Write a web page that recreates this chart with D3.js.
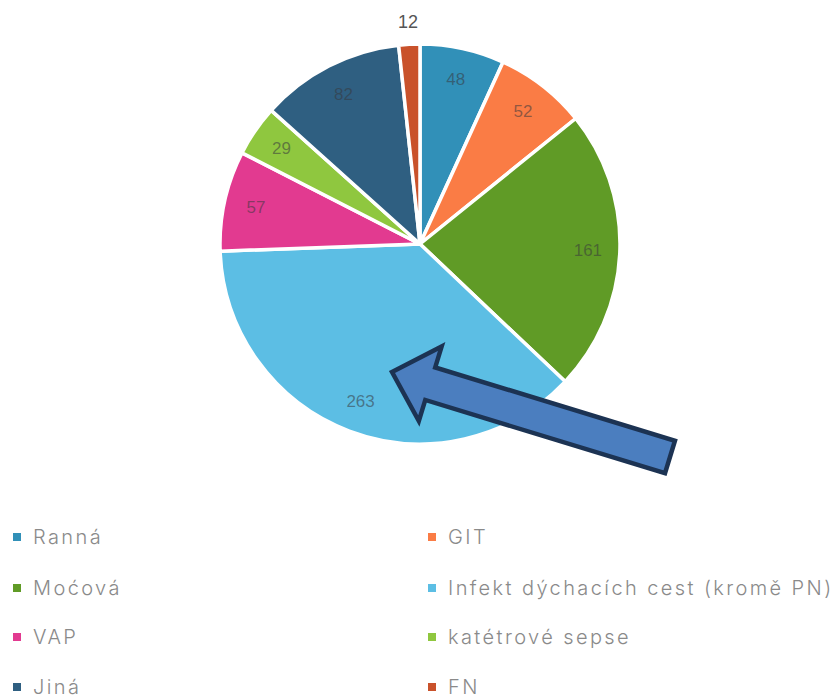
<!DOCTYPE html>
<html>
<head>
<meta charset="utf-8">
<script src="https://cdn.jsdelivr.net/npm/d3@7/dist/d3.min.js"></script>
<style>
  html, body { margin: 0; padding: 0; background: #fff; }
  svg { display: block; }
</style>
</head>
<body>
<svg id="chart" width="836" height="698"></svg>
<script>
// Infection types and their counts, clockwise from 12 o'clock
const categories = ["Ranná", "GIT", "Moćová", "Infekt dýchacích cest (kromě PN)", "VAP", "katétrové sepse", "Jiná", "FN"];
const values = [48, 52, 161, 263, 57, 29, 82, 12];
const sliceColors = ["#3190b8", "#fa7c45", "#609b26", "#5cbee4", "#e23a90", "#8fc73f", "#2f5f81", "#c9522b"];
// Legend reading order (two columns, row by row)
const legendOrder = ["Ranná", "GIT", "Moćová", "Infekt dýchacích cest (kromě PN)", "VAP", "katétrové sepse", "Jiná", "FN"];
// Slices too narrow for an inside label
const outsideLabels = ["FN"];

const svg = d3.select("#chart");
const cx = 420, cy = 244, R = 200;

const data = categories.map((c, i) => ({ name: c, value: values[i] }));
const color = d3.scaleOrdinal().domain(categories).range(sliceColors);

const pie = d3.pie().value(d => d.value).sort(null);
const arcs = pie(data);
const arc = d3.arc().innerRadius(0).outerRadius(R);
const labelArc = d3.arc().innerRadius(168).outerRadius(168);
const outerLabelArc = d3.arc().innerRadius(222).outerRadius(222);

const g = svg.append("g").attr("transform", `translate(${cx},${cy})`);

g.selectAll("path.slice")
  .data(arcs)
  .join("path")
  .attr("class", "slice")
  .attr("d", arc)
  .attr("fill", d => color(d.data.name))
  .attr("stroke", "#fff")
  .attr("stroke-width", 3.5)
  .attr("stroke-linejoin", "round");

g.selectAll("text.val")
  .data(arcs)
  .join("text")
  .attr("class", "val")
  .attr("transform", d => {
    const a = outsideLabels.includes(d.data.name) ? outerLabelArc : labelArc;
    return `translate(${a.centroid(d)})`;
  })
  .attr("text-anchor", "middle")
  .attr("dominant-baseline", "central")
  .attr("font-family", "Liberation Sans, Arial, sans-serif")
  .attr("font-size", d => outsideLabels.includes(d.data.name) ? 18 : 17)
  .attr("fill", d => outsideLabels.includes(d.data.name) ? "#555" : "rgba(55,55,60,0.55)")
  .text(d => d.data.value);

// Pointer arrow aimed at the respiratory-infection slice
const arrowTip = [392, 372], arrowTail = [670, 457];
const headLen = 40, headHalf = 39, shaftHalf = 17;
(function drawArrow() {
  const dx = arrowTail[0] - arrowTip[0], dy = arrowTail[1] - arrowTip[1];
  const len = Math.hypot(dx, dy);
  const u = [dx / len, dy / len], n = [-u[1], u[0]];
  const p = (a, b) => [arrowTip[0] + u[0] * a + n[0] * b, arrowTip[1] + u[1] * a + n[1] * b];
  const pts = [
    p(0, 0),
    p(headLen, -headHalf),
    p(headLen, -shaftHalf),
    p(len, -shaftHalf),
    p(len, shaftHalf),
    p(headLen, shaftHalf),
    p(headLen, headHalf)
  ];
  svg.append("path")
    .attr("d", d3.line()(pts) + "Z")
    .attr("fill", "#4b7ebf")
    .attr("stroke", "#1c3353")
    .attr("stroke-width", 4.5)
    .attr("stroke-linejoin", "miter");
})();

// Legend
const colX = [13, 428], textOffset = 20, rowY = [537, 588, 637, 687];
const legend = svg.append("g");
const items = legend.selectAll("g.item")
  .data(legendOrder)
  .join("g")
  .attr("class", "item")
  .attr("transform", (d, i) => `translate(${colX[i % 2]},${rowY[Math.floor(i / 2)]})`);

items.append("rect")
  .attr("x", 0).attr("y", -4)
  .attr("width", 8).attr("height", 8)
  .attr("fill", d => color(d));

items.append("text")
  .attr("x", textOffset)
  .attr("dominant-baseline", "central")
  .attr("font-family", "Inter, 'Open Sans', sans-serif")
  .attr("font-weight", 300)
  .attr("font-size", 20)
  .attr("letter-spacing", 2.4)
  .attr("fill", "#8a8a8a")
  .text(d => d);
</script>
</body>
</html>
